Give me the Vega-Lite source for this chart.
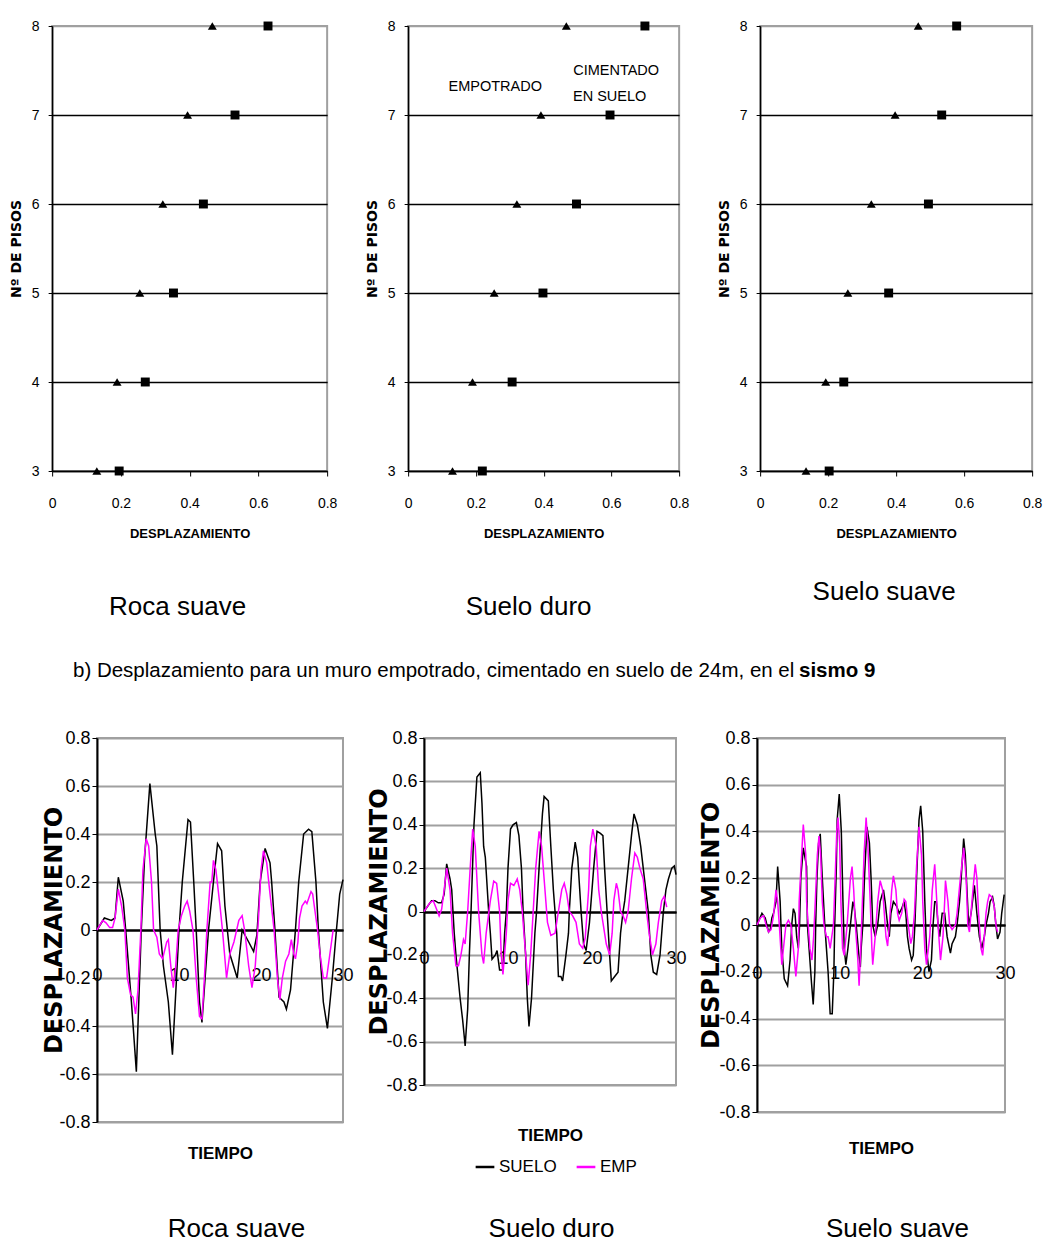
{
  "$schema": "https://vega.github.io/schema/vega-lite/v6.json",
  "background": "white",
  "padding": {"left": -30, "top": 18, "right": 0, "bottom": 0},
  "columns": 1,
  "center": true,
  "spacing": 38,
  "config": {
    "view": {"stroke": "#a0a0a0", "strokeWidth": 2},
    "font": "Liberation Sans",
    "axis": {"labelColor": "black", "titleColor": "black", "domainColor": "black", "tickColor": "black", "labelFlush": false, "labelOverlap": false},
    "title": {"color": "black"}
  },
  "datasets": {
    "top1": [
      {"f": 3, "c": "EMPOTRADO", "d": 0.130}, {"f": 4, "c": "EMPOTRADO", "d": 0.189}, {"f": 5, "c": "EMPOTRADO", "d": 0.255},
      {"f": 6, "c": "EMPOTRADO", "d": 0.322}, {"f": 7, "c": "EMPOTRADO", "d": 0.394}, {"f": 8, "c": "EMPOTRADO", "d": 0.466},
      {"f": 3, "c": "CIMENTADO EN SUELO", "d": 0.195}, {"f": 4, "c": "CIMENTADO EN SUELO", "d": 0.271}, {"f": 5, "c": "CIMENTADO EN SUELO", "d": 0.353},
      {"f": 6, "c": "CIMENTADO EN SUELO", "d": 0.440}, {"f": 7, "c": "CIMENTADO EN SUELO", "d": 0.532}, {"f": 8, "c": "CIMENTADO EN SUELO", "d": 0.628}
    ],
    "top2": [
      {"f": 3, "c": "EMPOTRADO", "d": 0.131}, {"f": 4, "c": "EMPOTRADO", "d": 0.190}, {"f": 5, "c": "EMPOTRADO", "d": 0.254},
      {"f": 6, "c": "EMPOTRADO", "d": 0.321}, {"f": 7, "c": "EMPOTRADO", "d": 0.392}, {"f": 8, "c": "EMPOTRADO", "d": 0.467},
      {"f": 3, "c": "CIMENTADO EN SUELO", "d": 0.219}, {"f": 4, "c": "CIMENTADO EN SUELO", "d": 0.307}, {"f": 5, "c": "CIMENTADO EN SUELO", "d": 0.398},
      {"f": 6, "c": "CIMENTADO EN SUELO", "d": 0.497}, {"f": 7, "c": "CIMENTADO EN SUELO", "d": 0.596}, {"f": 8, "c": "CIMENTADO EN SUELO", "d": 0.699}
    ],
    "top3": [
      {"f": 3, "c": "EMPOTRADO", "d": 0.135}, {"f": 4, "c": "EMPOTRADO", "d": 0.193}, {"f": 5, "c": "EMPOTRADO", "d": 0.258},
      {"f": 6, "c": "EMPOTRADO", "d": 0.327}, {"f": 7, "c": "EMPOTRADO", "d": 0.397}, {"f": 8, "c": "EMPOTRADO", "d": 0.465},
      {"f": 3, "c": "CIMENTADO EN SUELO", "d": 0.203}, {"f": 4, "c": "CIMENTADO EN SUELO", "d": 0.246}, {"f": 5, "c": "CIMENTADO EN SUELO", "d": 0.378},
      {"f": 6, "c": "CIMENTADO EN SUELO", "d": 0.495}, {"f": 7, "c": "CIMENTADO EN SUELO", "d": 0.534}, {"f": 8, "c": "CIMENTADO EN SUELO", "d": 0.578}
    ],
    "notes": [
      {"d": 0.257, "f": 7.31, "label": "EMPOTRADO"},
      {"d": 0.614, "f": 7.49, "label": "CIMENTADO"},
      {"d": 0.595, "f": 7.2, "label": "EN SUELO"}
    ],
    "b1": [
      {"s":"SUELO","t":0,"v":0},{"s":"SUELO","t":0.9,"v":0.05},{"s":"SUELO","t":1.75,"v":0.04},{"s":"SUELO","t":2.2,"v":0.05},{"s":"SUELO","t":2.6,"v":0.22},{"s":"SUELO","t":3.2,"v":0.12},{"s":"SUELO","t":3.5,"v":0},{"s":"SUELO","t":4.2,"v":-0.3},{"s":"SUELO","t":4.8,"v":-0.59},{"s":"SUELO","t":5.4,"v":0},{"s":"SUELO","t":5.8,"v":0.3},{"s":"SUELO","t":6.45,"v":0.61},{"s":"SUELO","t":7.1,"v":0.4},{"s":"SUELO","t":7.3,"v":0.35},{"s":"SUELO","t":7.7,"v":0},{"s":"SUELO","t":8.1,"v":-0.15},{"s":"SUELO","t":8.7,"v":-0.3},{"s":"SUELO","t":9.2,"v":-0.52},{"s":"SUELO","t":9.7,"v":-0.2},{"s":"SUELO","t":10,"v":0},{"s":"SUELO","t":10.4,"v":0.2},{"s":"SUELO","t":11.1,"v":0.46},{"s":"SUELO","t":11.4,"v":0.45},{"s":"SUELO","t":11.8,"v":0.2},{"s":"SUELO","t":12.1,"v":0},{"s":"SUELO","t":12.5,"v":-0.3},{"s":"SUELO","t":12.8,"v":-0.385},{"s":"SUELO","t":13.6,"v":0},{"s":"SUELO","t":14.2,"v":0.2},{"s":"SUELO","t":14.7,"v":0.36},{"s":"SUELO","t":15.2,"v":0.33},{"s":"SUELO","t":15.6,"v":0.1},{"s":"SUELO","t":16.2,"v":-0.1},{"s":"SUELO","t":17.1,"v":-0.2},{"s":"SUELO","t":17.7,"v":0},{"s":"SUELO","t":18.5,"v":-0.05},{"s":"SUELO","t":19.1,"v":-0.09},{"s":"SUELO","t":19.5,"v":-0.02},{"s":"SUELO","t":19.9,"v":0.2},{"s":"SUELO","t":20.5,"v":0.34},{"s":"SUELO","t":21.1,"v":0.28},{"s":"SUELO","t":21.3,"v":0.2},{"s":"SUELO","t":21.7,"v":0},{"s":"SUELO","t":22.2,"v":-0.28},{"s":"SUELO","t":22.8,"v":-0.3},{"s":"SUELO","t":23.1,"v":-0.33},{"s":"SUELO","t":23.6,"v":-0.25},{"s":"SUELO","t":24.2,"v":0},{"s":"SUELO","t":24.6,"v":0.2},{"s":"SUELO","t":25.2,"v":0.4},{"s":"SUELO","t":25.8,"v":0.42},{"s":"SUELO","t":26.2,"v":0.41},{"s":"SUELO","t":26.7,"v":0.2},{"s":"SUELO","t":27,"v":0},{"s":"SUELO","t":27.6,"v":-0.3},{"s":"SUELO","t":28.1,"v":-0.41},{"s":"SUELO","t":28.7,"v":-0.2},{"s":"SUELO","t":29.2,"v":0},{"s":"SUELO","t":29.6,"v":0.15},{"s":"SUELO","t":30,"v":0.21},
      {"s":"EMP","t":0,"v":0},{"s":"EMP","t":0.7,"v":0.04},{"s":"EMP","t":1.1,"v":0.03},{"s":"EMP","t":1.55,"v":0.01},{"s":"EMP","t":1.9,"v":0.01},{"s":"EMP","t":2.2,"v":0.05},{"s":"EMP","t":2.6,"v":0.17},{"s":"EMP","t":3,"v":0.1},{"s":"EMP","t":3.4,"v":0},{"s":"EMP","t":3.7,"v":-0.2},{"s":"EMP","t":4.1,"v":-0.27},{"s":"EMP","t":4.4,"v":-0.28},{"s":"EMP","t":4.7,"v":-0.35},{"s":"EMP","t":5,"v":-0.25},{"s":"EMP","t":5.35,"v":0},{"s":"EMP","t":5.6,"v":0.25},{"s":"EMP","t":6,"v":0.38},{"s":"EMP","t":6.3,"v":0.35},{"s":"EMP","t":6.65,"v":0.2},{"s":"EMP","t":6.9,"v":0},{"s":"EMP","t":7.3,"v":-0.03},{"s":"EMP","t":7.6,"v":-0.1},{"s":"EMP","t":8,"v":-0.12},{"s":"EMP","t":8.5,"v":-0.05},{"s":"EMP","t":8.7,"v":-0.04},{"s":"EMP","t":9,"v":-0.15},{"s":"EMP","t":9.3,"v":-0.24},{"s":"EMP","t":9.6,"v":-0.15},{"s":"EMP","t":9.9,"v":0},{"s":"EMP","t":10.3,"v":0.06},{"s":"EMP","t":10.7,"v":0.1},{"s":"EMP","t":11,"v":0.12},{"s":"EMP","t":11.3,"v":0.08},{"s":"EMP","t":11.7,"v":0},{"s":"EMP","t":12.1,"v":-0.2},{"s":"EMP","t":12.5,"v":-0.36},{"s":"EMP","t":12.8,"v":-0.37},{"s":"EMP","t":13.1,"v":-0.2},{"s":"EMP","t":13.4,"v":0},{"s":"EMP","t":13.8,"v":0.2},{"s":"EMP","t":14,"v":0.2},{"s":"EMP","t":14.2,"v":0.29},{"s":"EMP","t":14.5,"v":0.25},{"s":"EMP","t":15,"v":0.1},{"s":"EMP","t":15.3,"v":0},{"s":"EMP","t":15.8,"v":-0.2},{"s":"EMP","t":16.2,"v":-0.1},{"s":"EMP","t":16.7,"v":-0.05},{"s":"EMP","t":17.3,"v":0.04},{"s":"EMP","t":17.7,"v":0.06},{"s":"EMP","t":18,"v":0},{"s":"EMP","t":18.5,"v":-0.15},{"s":"EMP","t":18.9,"v":-0.24},{"s":"EMP","t":19.3,"v":-0.15},{"s":"EMP","t":19.7,"v":0.05},{"s":"EMP","t":20,"v":0.25},{"s":"EMP","t":20.3,"v":0.33},{"s":"EMP","t":20.7,"v":0.28},{"s":"EMP","t":21.1,"v":0.15},{"s":"EMP","t":21.6,"v":0},{"s":"EMP","t":22,"v":-0.2},{"s":"EMP","t":22.3,"v":-0.29},{"s":"EMP","t":22.6,"v":-0.2},{"s":"EMP","t":23,"v":-0.13},{"s":"EMP","t":23.4,"v":-0.1},{"s":"EMP","t":23.7,"v":-0.04},{"s":"EMP","t":24,"v":-0.1},{"s":"EMP","t":24.2,"v":-0.12},{"s":"EMP","t":24.5,"v":-0.05},{"s":"EMP","t":24.7,"v":0.05},{"s":"EMP","t":25,"v":0.1},{"s":"EMP","t":25.4,"v":0.12},{"s":"EMP","t":25.6,"v":0.11},{"s":"EMP","t":26.1,"v":0.16},{"s":"EMP","t":26.3,"v":0.15},{"s":"EMP","t":26.9,"v":0},{"s":"EMP","t":27.2,"v":-0.1},{"s":"EMP","t":27.6,"v":-0.2},{"s":"EMP","t":28,"v":-0.2},{"s":"EMP","t":28.4,"v":-0.1},{"s":"EMP","t":28.8,"v":0}
    ],
    "b2": [
      {"s":"SUELO","t":0,"v":0},{"s":"SUELO","t":0.9,"v":0.05},{"s":"SUELO","t":1.3,"v":0.05},{"s":"SUELO","t":1.7,"v":0.04},{"s":"SUELO","t":2.1,"v":0.04},{"s":"SUELO","t":2.4,"v":0.08},{"s":"SUELO","t":2.7,"v":0.22},{"s":"SUELO","t":3.1,"v":0.15},{"s":"SUELO","t":3.3,"v":0.1},{"s":"SUELO","t":3.6,"v":-0.1},{"s":"SUELO","t":3.8,"v":-0.2},{"s":"SUELO","t":4.3,"v":-0.4},{"s":"SUELO","t":4.6,"v":-0.5},{"s":"SUELO","t":4.9,"v":-0.62},{"s":"SUELO","t":5.2,"v":-0.45},{"s":"SUELO","t":5.4,"v":-0.2},{"s":"SUELO","t":5.6,"v":0},{"s":"SUELO","t":5.95,"v":0.4},{"s":"SUELO","t":6.3,"v":0.62},{"s":"SUELO","t":6.7,"v":0.64},{"s":"SUELO","t":6.9,"v":0.5},{"s":"SUELO","t":7.1,"v":0.3},{"s":"SUELO","t":7.3,"v":0.25},{"s":"SUELO","t":7.7,"v":0},{"s":"SUELO","t":7.9,"v":-0.1},{"s":"SUELO","t":8.1,"v":-0.22},{"s":"SUELO","t":8.5,"v":-0.2},{"s":"SUELO","t":8.7,"v":-0.18},{"s":"SUELO","t":9,"v":-0.27},{"s":"SUELO","t":9.4,"v":-0.27},{"s":"SUELO","t":9.6,"v":-0.1},{"s":"SUELO","t":9.8,"v":0},{"s":"SUELO","t":10,"v":0.2},{"s":"SUELO","t":10.3,"v":0.38},{"s":"SUELO","t":10.6,"v":0.4},{"s":"SUELO","t":11,"v":0.41},{"s":"SUELO","t":11.3,"v":0.35},{"s":"SUELO","t":11.6,"v":0.2},{"s":"SUELO","t":11.8,"v":0},{"s":"SUELO","t":12.1,"v":-0.2},{"s":"SUELO","t":12.3,"v":-0.4},{"s":"SUELO","t":12.5,"v":-0.53},{"s":"SUELO","t":12.8,"v":-0.4},{"s":"SUELO","t":13.2,"v":-0.1},{"s":"SUELO","t":13.4,"v":0},{"s":"SUELO","t":13.7,"v":0.2},{"s":"SUELO","t":14.1,"v":0.45},{"s":"SUELO","t":14.3,"v":0.53},{"s":"SUELO","t":14.8,"v":0.51},{"s":"SUELO","t":15.1,"v":0.3},{"s":"SUELO","t":15.4,"v":0.1},{"s":"SUELO","t":15.6,"v":0},{"s":"SUELO","t":15.8,"v":-0.1},{"s":"SUELO","t":16,"v":-0.3},{"s":"SUELO","t":16.3,"v":-0.3},{"s":"SUELO","t":16.5,"v":-0.32},{"s":"SUELO","t":16.9,"v":-0.2},{"s":"SUELO","t":17.2,"v":-0.1},{"s":"SUELO","t":17.3,"v":0},{"s":"SUELO","t":17.6,"v":0.2},{"s":"SUELO","t":18,"v":0.32},{"s":"SUELO","t":18.3,"v":0.25},{"s":"SUELO","t":18.7,"v":0},{"s":"SUELO","t":19,"v":-0.15},{"s":"SUELO","t":19.3,"v":-0.18},{"s":"SUELO","t":19.7,"v":-0.05},{"s":"SUELO","t":20,"v":0.1},{"s":"SUELO","t":20.2,"v":0.2},{"s":"SUELO","t":20.6,"v":0.37},{"s":"SUELO","t":21,"v":0.36},{"s":"SUELO","t":21.3,"v":0.35},{"s":"SUELO","t":21.5,"v":0.2},{"s":"SUELO","t":21.8,"v":0},{"s":"SUELO","t":22.1,"v":-0.2},{"s":"SUELO","t":22.3,"v":-0.32},{"s":"SUELO","t":22.7,"v":-0.3},{"s":"SUELO","t":23.1,"v":-0.28},{"s":"SUELO","t":23.4,"v":-0.1},{"s":"SUELO","t":23.7,"v":0},{"s":"SUELO","t":23.9,"v":0.05},{"s":"SUELO","t":24.3,"v":0.2},{"s":"SUELO","t":24.7,"v":0.35},{"s":"SUELO","t":25,"v":0.45},{"s":"SUELO","t":25.4,"v":0.4},{"s":"SUELO","t":25.8,"v":0.3},{"s":"SUELO","t":26.1,"v":0.2},{"s":"SUELO","t":26.4,"v":0.1},{"s":"SUELO","t":26.7,"v":0},{"s":"SUELO","t":27,"v":-0.2},{"s":"SUELO","t":27.3,"v":-0.28},{"s":"SUELO","t":27.7,"v":-0.29},{"s":"SUELO","t":28.1,"v":-0.2},{"s":"SUELO","t":28.5,"v":0},{"s":"SUELO","t":28.8,"v":0.1},{"s":"SUELO","t":29.1,"v":0.15},{"s":"SUELO","t":29.5,"v":0.2},{"s":"SUELO","t":29.8,"v":0.21},{"s":"SUELO","t":30,"v":0.17},
      {"s":"EMP","t":0,"v":0},{"s":"EMP","t":0.7,"v":0.04},{"s":"EMP","t":1.1,"v":0.05},{"s":"EMP","t":1.5,"v":0.01},{"s":"EMP","t":1.8,"v":-0.02},{"s":"EMP","t":2.1,"v":0.01},{"s":"EMP","t":2.4,"v":0.1},{"s":"EMP","t":2.7,"v":0.2},{"s":"EMP","t":3.1,"v":0.1},{"s":"EMP","t":3.4,"v":-0.1},{"s":"EMP","t":3.8,"v":-0.25},{"s":"EMP","t":4.1,"v":-0.25},{"s":"EMP","t":4.4,"v":-0.2},{"s":"EMP","t":4.7,"v":-0.13},{"s":"EMP","t":4.9,"v":-0.15},{"s":"EMP","t":5.2,"v":0},{"s":"EMP","t":5.5,"v":0.2},{"s":"EMP","t":5.8,"v":0.38},{"s":"EMP","t":6.1,"v":0.3},{"s":"EMP","t":6.5,"v":0},{"s":"EMP","t":6.9,"v":-0.2},{"s":"EMP","t":7.1,"v":-0.24},{"s":"EMP","t":7.4,"v":-0.1},{"s":"EMP","t":7.9,"v":0.05},{"s":"EMP","t":8.3,"v":0.14},{"s":"EMP","t":8.65,"v":0.13},{"s":"EMP","t":9,"v":0},{"s":"EMP","t":9.2,"v":-0.2},{"s":"EMP","t":9.4,"v":-0.29},{"s":"EMP","t":9.8,"v":-0.1},{"s":"EMP","t":10,"v":0.05},{"s":"EMP","t":10.3,"v":0.13},{"s":"EMP","t":10.7,"v":0.12},{"s":"EMP","t":11.1,"v":0.15},{"s":"EMP","t":11.4,"v":0.1},{"s":"EMP","t":11.7,"v":0},{"s":"EMP","t":12,"v":-0.15},{"s":"EMP","t":12.4,"v":-0.34},{"s":"EMP","t":12.7,"v":-0.2},{"s":"EMP","t":13,"v":0},{"s":"EMP","t":13.3,"v":0.2},{"s":"EMP","t":13.7,"v":0.37},{"s":"EMP","t":14,"v":0.3},{"s":"EMP","t":14.4,"v":0.1},{"s":"EMP","t":14.7,"v":-0.05},{"s":"EMP","t":15.1,"v":-0.11},{"s":"EMP","t":15.6,"v":-0.1},{"s":"EMP","t":16,"v":0},{"s":"EMP","t":16.4,"v":0.1},{"s":"EMP","t":16.7,"v":0.13},{"s":"EMP","t":17,"v":0.08},{"s":"EMP","t":17.3,"v":0},{"s":"EMP","t":17.7,"v":-0.02},{"s":"EMP","t":18.1,"v":-0.05},{"s":"EMP","t":18.5,"v":-0.15},{"s":"EMP","t":18.9,"v":-0.17},{"s":"EMP","t":19.2,"v":-0.12},{"s":"EMP","t":19.6,"v":0.1},{"s":"EMP","t":19.8,"v":0.3},{"s":"EMP","t":20.1,"v":0.38},{"s":"EMP","t":20.5,"v":0.3},{"s":"EMP","t":20.8,"v":0.1},{"s":"EMP","t":21.1,"v":0},{"s":"EMP","t":21.3,"v":-0.05},{"s":"EMP","t":21.7,"v":-0.15},{"s":"EMP","t":22.1,"v":-0.2},{"s":"EMP","t":22.4,"v":-0.1},{"s":"EMP","t":22.6,"v":0.05},{"s":"EMP","t":22.9,"v":0.13},{"s":"EMP","t":23.1,"v":0.1},{"s":"EMP","t":23.4,"v":0},{"s":"EMP","t":23.7,"v":-0.02},{"s":"EMP","t":24,"v":-0.05},{"s":"EMP","t":24.3,"v":0},{"s":"EMP","t":24.7,"v":0.15},{"s":"EMP","t":25.1,"v":0.27},{"s":"EMP","t":25.4,"v":0.25},{"s":"EMP","t":25.7,"v":0.2},{"s":"EMP","t":26.1,"v":0.15},{"s":"EMP","t":26.5,"v":0},{"s":"EMP","t":26.8,"v":-0.1},{"s":"EMP","t":27.2,"v":-0.2},{"s":"EMP","t":27.6,"v":-0.15},{"s":"EMP","t":27.9,"v":-0.05},{"s":"EMP","t":28.3,"v":0.05},{"s":"EMP","t":28.6,"v":0.07},{"s":"EMP","t":28.9,"v":0.02}
    ],
    "b3": [
      {"s":"SUELO","t":0,"v":0},{"s":"SUELO","t":0.6,"v":0.05},{"s":"SUELO","t":1,"v":0.03},{"s":"SUELO","t":1.2,"v":0},{"s":"SUELO","t":1.4,"v":-0.03},{"s":"SUELO","t":1.6,"v":-0.02},{"s":"SUELO","t":1.8,"v":0.03},{"s":"SUELO","t":2,"v":0.05},{"s":"SUELO","t":2.3,"v":0.1},{"s":"SUELO","t":2.5,"v":0.25},{"s":"SUELO","t":2.8,"v":0.1},{"s":"SUELO","t":3,"v":-0.1},{"s":"SUELO","t":3.3,"v":-0.23},{"s":"SUELO","t":3.7,"v":-0.26},{"s":"SUELO","t":4,"v":-0.15},{"s":"SUELO","t":4.2,"v":0},{"s":"SUELO","t":4.4,"v":0.07},{"s":"SUELO","t":4.6,"v":0.05},{"s":"SUELO","t":4.8,"v":-0.05},{"s":"SUELO","t":5,"v":-0.1},{"s":"SUELO","t":5.15,"v":0},{"s":"SUELO","t":5.3,"v":0.2},{"s":"SUELO","t":5.6,"v":0.33},{"s":"SUELO","t":6,"v":0.25},{"s":"SUELO","t":6.1,"v":0},{"s":"SUELO","t":6.3,"v":-0.1},{"s":"SUELO","t":6.6,"v":-0.25},{"s":"SUELO","t":6.8,"v":-0.34},{"s":"SUELO","t":7,"v":-0.2},{"s":"SUELO","t":7.1,"v":0},{"s":"SUELO","t":7.25,"v":0.2},{"s":"SUELO","t":7.45,"v":0.35},{"s":"SUELO","t":7.65,"v":0.39},{"s":"SUELO","t":7.9,"v":0.2},{"s":"SUELO","t":8.2,"v":0},{"s":"SUELO","t":8.4,"v":-0.1},{"s":"SUELO","t":8.6,"v":-0.2},{"s":"SUELO","t":8.85,"v":-0.38},{"s":"SUELO","t":9.1,"v":-0.38},{"s":"SUELO","t":9.3,"v":-0.2},{"s":"SUELO","t":9.4,"v":0},{"s":"SUELO","t":9.6,"v":0.25},{"s":"SUELO","t":9.7,"v":0.45},{"s":"SUELO","t":9.95,"v":0.56},{"s":"SUELO","t":10.2,"v":0.4},{"s":"SUELO","t":10.4,"v":0.1},{"s":"SUELO","t":10.55,"v":-0.1},{"s":"SUELO","t":10.75,"v":-0.17},{"s":"SUELO","t":11,"v":-0.1},{"s":"SUELO","t":11.3,"v":0},{"s":"SUELO","t":11.6,"v":0.1},{"s":"SUELO","t":11.75,"v":0.08},{"s":"SUELO","t":12,"v":0},{"s":"SUELO","t":12.3,"v":-0.12},{"s":"SUELO","t":12.5,"v":-0.18},{"s":"SUELO","t":12.6,"v":-0.1},{"s":"SUELO","t":12.8,"v":0},{"s":"SUELO","t":13,"v":0.2},{"s":"SUELO","t":13.3,"v":0.42},{"s":"SUELO","t":13.6,"v":0.35},{"s":"SUELO","t":13.8,"v":0.2},{"s":"SUELO","t":14,"v":0},{"s":"SUELO","t":14.3,"v":-0.05},{"s":"SUELO","t":14.6,"v":0},{"s":"SUELO","t":14.9,"v":0.1},{"s":"SUELO","t":15.3,"v":0.15},{"s":"SUELO","t":15.5,"v":0.1},{"s":"SUELO","t":15.8,"v":0},{"s":"SUELO","t":16,"v":-0.05},{"s":"SUELO","t":16.2,"v":0.05},{"s":"SUELO","t":16.5,"v":0.1},{"s":"SUELO","t":16.9,"v":0.08},{"s":"SUELO","t":17.2,"v":0.05},{"s":"SUELO","t":17.5,"v":0.07},{"s":"SUELO","t":17.8,"v":0.1},{"s":"SUELO","t":18,"v":0.05},{"s":"SUELO","t":18.2,"v":-0.05},{"s":"SUELO","t":18.4,"v":-0.1},{"s":"SUELO","t":18.7,"v":-0.15},{"s":"SUELO","t":18.9,"v":-0.13},{"s":"SUELO","t":19.1,"v":0},{"s":"SUELO","t":19.3,"v":0.2},{"s":"SUELO","t":19.6,"v":0.45},{"s":"SUELO","t":19.8,"v":0.51},{"s":"SUELO","t":20.05,"v":0.4},{"s":"SUELO","t":20.3,"v":0.1},{"s":"SUELO","t":20.5,"v":-0.1},{"s":"SUELO","t":20.8,"v":-0.2},{"s":"SUELO","t":21.1,"v":-0.15},{"s":"SUELO","t":21.3,"v":0},{"s":"SUELO","t":21.5,"v":0.1},{"s":"SUELO","t":21.7,"v":0.1},{"s":"SUELO","t":21.9,"v":0},{"s":"SUELO","t":22.1,"v":-0.05},{"s":"SUELO","t":22.4,"v":0.05},{"s":"SUELO","t":22.7,"v":0.05},{"s":"SUELO","t":23,"v":-0.05},{"s":"SUELO","t":23.4,"v":-0.12},{"s":"SUELO","t":23.6,"v":-0.08},{"s":"SUELO","t":24,"v":-0.05},{"s":"SUELO","t":24.2,"v":0},{"s":"SUELO","t":24.5,"v":0.1},{"s":"SUELO","t":24.7,"v":0.2},{"s":"SUELO","t":25,"v":0.37},{"s":"SUELO","t":25.2,"v":0.3},{"s":"SUELO","t":25.4,"v":0.15},{"s":"SUELO","t":25.6,"v":0},{"s":"SUELO","t":25.9,"v":0.05},{"s":"SUELO","t":26.3,"v":0.17},{"s":"SUELO","t":26.6,"v":0.05},{"s":"SUELO","t":26.9,"v":-0.05},{"s":"SUELO","t":27.2,"v":-0.1},{"s":"SUELO","t":27.5,"v":-0.05},{"s":"SUELO","t":27.7,"v":0},{"s":"SUELO","t":28,"v":0.05},{"s":"SUELO","t":28.2,"v":0.1},{"s":"SUELO","t":28.5,"v":0.12},{"s":"SUELO","t":28.7,"v":0.08},{"s":"SUELO","t":28.9,"v":0},{"s":"SUELO","t":29.1,"v":-0.06},{"s":"SUELO","t":29.4,"v":-0.03},{"s":"SUELO","t":29.6,"v":0.05},{"s":"SUELO","t":29.9,"v":0.13},
      {"s":"EMP","t":0,"v":0},{"s":"EMP","t":0.4,"v":0.03},{"s":"EMP","t":0.8,"v":0.04},{"s":"EMP","t":1.1,"v":0},{"s":"EMP","t":1.4,"v":-0.03},{"s":"EMP","t":1.7,"v":-0.02},{"s":"EMP","t":2,"v":0.04},{"s":"EMP","t":2.3,"v":0.15},{"s":"EMP","t":2.5,"v":0.1},{"s":"EMP","t":2.7,"v":0},{"s":"EMP","t":3,"v":-0.17},{"s":"EMP","t":3.2,"v":-0.1},{"s":"EMP","t":3.5,"v":0},{"s":"EMP","t":3.8,"v":0.02},{"s":"EMP","t":4.1,"v":0},{"s":"EMP","t":4.4,"v":-0.1},{"s":"EMP","t":4.7,"v":-0.22},{"s":"EMP","t":5,"v":-0.1},{"s":"EMP","t":5.1,"v":0.1},{"s":"EMP","t":5.4,"v":0.3},{"s":"EMP","t":5.6,"v":0.43},{"s":"EMP","t":5.9,"v":0.3},{"s":"EMP","t":6,"v":0.1},{"s":"EMP","t":6.2,"v":0},{"s":"EMP","t":6.4,"v":-0.1},{"s":"EMP","t":6.65,"v":-0.15},{"s":"EMP","t":6.85,"v":-0.05},{"s":"EMP","t":7.05,"v":0.1},{"s":"EMP","t":7.3,"v":0.3},{"s":"EMP","t":7.5,"v":0.38},{"s":"EMP","t":7.7,"v":0.3},{"s":"EMP","t":7.9,"v":0.1},{"s":"EMP","t":8.1,"v":0},{"s":"EMP","t":8.4,"v":-0.05},{"s":"EMP","t":8.6,"v":-0.05},{"s":"EMP","t":8.85,"v":-0.1},{"s":"EMP","t":9.05,"v":-0.05},{"s":"EMP","t":9.25,"v":0},{"s":"EMP","t":9.45,"v":0.2},{"s":"EMP","t":9.65,"v":0.4},{"s":"EMP","t":9.8,"v":0.46},{"s":"EMP","t":10,"v":0.35},{"s":"EMP","t":10.15,"v":0.1},{"s":"EMP","t":10.35,"v":-0.1},{"s":"EMP","t":10.55,"v":-0.13},{"s":"EMP","t":10.9,"v":0},{"s":"EMP","t":11.3,"v":0.2},{"s":"EMP","t":11.5,"v":0.25},{"s":"EMP","t":11.7,"v":0.15},{"s":"EMP","t":11.9,"v":0},{"s":"EMP","t":12.2,"v":-0.15},{"s":"EMP","t":12.35,"v":-0.26},{"s":"EMP","t":12.55,"v":-0.1},{"s":"EMP","t":12.75,"v":0.1},{"s":"EMP","t":12.95,"v":0.3},{"s":"EMP","t":13.2,"v":0.46},{"s":"EMP","t":13.4,"v":0.35},{"s":"EMP","t":13.7,"v":0.1},{"s":"EMP","t":13.9,"v":-0.1},{"s":"EMP","t":14,"v":-0.17},{"s":"EMP","t":14.3,"v":-0.05},{"s":"EMP","t":14.6,"v":0.1},{"s":"EMP","t":14.9,"v":0.19},{"s":"EMP","t":15.2,"v":0.15},{"s":"EMP","t":15.4,"v":0.05},{"s":"EMP","t":15.6,"v":-0.05},{"s":"EMP","t":15.8,"v":-0.09},{"s":"EMP","t":16,"v":0},{"s":"EMP","t":16.3,"v":0.15},{"s":"EMP","t":16.5,"v":0.21},{"s":"EMP","t":16.8,"v":0.15},{"s":"EMP","t":17,"v":0.05},{"s":"EMP","t":17.2,"v":0.02},{"s":"EMP","t":17.5,"v":0.05},{"s":"EMP","t":17.8,"v":0.11},{"s":"EMP","t":18,"v":0.1},{"s":"EMP","t":18.3,"v":0},{"s":"EMP","t":18.6,"v":-0.08},{"s":"EMP","t":18.8,"v":-0.05},{"s":"EMP","t":19.05,"v":0.05},{"s":"EMP","t":19.3,"v":0.25},{"s":"EMP","t":19.6,"v":0.42},{"s":"EMP","t":19.9,"v":0.3},{"s":"EMP","t":20.05,"v":0.1},{"s":"EMP","t":20.3,"v":-0.1},{"s":"EMP","t":20.5,"v":-0.17},{"s":"EMP","t":20.9,"v":-0.05},{"s":"EMP","t":21.2,"v":0.15},{"s":"EMP","t":21.5,"v":0.26},{"s":"EMP","t":21.6,"v":0.2},{"s":"EMP","t":21.9,"v":0},{"s":"EMP","t":22.2,"v":-0.15},{"s":"EMP","t":22.5,"v":-0.05},{"s":"EMP","t":22.7,"v":0.1},{"s":"EMP","t":22.8,"v":0.19},{"s":"EMP","t":23.1,"v":0.1},{"s":"EMP","t":23.3,"v":0},{"s":"EMP","t":23.6,"v":-0.02},{"s":"EMP","t":24,"v":0},{"s":"EMP","t":24.2,"v":0.05},{"s":"EMP","t":24.6,"v":0.2},{"s":"EMP","t":25,"v":0.33},{"s":"EMP","t":25.3,"v":0.2},{"s":"EMP","t":25.5,"v":0},{"s":"EMP","t":25.7,"v":-0.03},{"s":"EMP","t":26,"v":0.1},{"s":"EMP","t":26.4,"v":0.26},{"s":"EMP","t":26.6,"v":0.2},{"s":"EMP","t":26.8,"v":0.05},{"s":"EMP","t":27.1,"v":-0.1},{"s":"EMP","t":27.3,"v":-0.13},{"s":"EMP","t":27.5,"v":-0.05},{"s":"EMP","t":27.7,"v":0.05},{"s":"EMP","t":27.9,"v":0.1},{"s":"EMP","t":28.1,"v":0.13},{"s":"EMP","t":28.4,"v":0.12},{"s":"EMP","t":28.7,"v":0.08},{"s":"EMP","t":28.9,"v":0},{"s":"EMP","t":29.1,"v":-0.03}
    ]
  },
  "concat": [
    {
      "hconcat": [
        {
          "width": 1, "height": 1,
          "data": {"values": []},
          "view": {"stroke": null},
          "mark": {"type": "point", "opacity": 0}
        },
        {
          "width": 275, "height": 445,
          "data": {"name": "top1"},
          "title": {"text": "Roca suave", "orient": "bottom", "anchor": "middle", "frame": "group", "dx": -12, "offset": 54, "baseline": "top", "fontSize": 26, "fontWeight": "normal"},
          "mark": {"type": "point", "filled": true, "color": "black", "opacity": 1, "size": 80},
          "encoding": {
            "x": {"field": "d", "type": "quantitative", "scale": {"domain": [0, 0.8], "nice": false}, "axis": {"values": [0, 0.2, 0.4, 0.6, 0.8], "format": "~g", "title": "DESPLAZAMIENTO", "grid": false, "domainWidth": 1.5, "tickSize": 5, "labelFontSize": 14, "labelPadding": 20, "titleFontSize": 13, "titleFontWeight": "bold", "titlePadding": 17}},
            "y": {"field": "f", "type": "quantitative", "scale": {"domain": [3, 8], "nice": false}, "axis": {"values": [3, 4, 5, 6, 7, 8], "format": "d", "title": "Nº DE PISOS", "grid": true, "gridColor": {"condition": {"test": "datum.value == 8", "value": "#a0a0a0"}, "value": "black"}, "gridWidth": 1.5, "domainWidth": 1.5, "tickSize": 4, "labelFontSize": 14, "labelPadding": 9, "titleFontSize": 14, "titleFont": "DejaVu Sans", "titleFontWeight": "bold", "titlePadding": 8}},
            "shape": {"field": "c", "type": "nominal", "scale": {"domain": ["EMPOTRADO", "CIMENTADO EN SUELO"], "range": ["triangle-up", "square"]}, "legend": null}
          }
        },
        {
          "width": 271, "height": 445,
          "title": {"text": "Suelo duro", "orient": "bottom", "anchor": "middle", "frame": "group", "dx": -15, "offset": 54, "baseline": "top", "fontSize": 26, "fontWeight": "normal"},
          "layer": [
            {
              "data": {"name": "top2"},
              "mark": {"type": "point", "filled": true, "color": "black", "opacity": 1, "size": 80},
              "encoding": {
                "x": {"field": "d", "type": "quantitative", "scale": {"domain": [0, 0.8], "nice": false}, "axis": {"values": [0, 0.2, 0.4, 0.6, 0.8], "format": "~g", "title": "DESPLAZAMIENTO", "grid": false, "domainWidth": 1.5, "tickSize": 5, "labelFontSize": 14, "labelPadding": 20, "titleFontSize": 13, "titleFontWeight": "bold", "titlePadding": 17}},
                "y": {"field": "f", "type": "quantitative", "scale": {"domain": [3, 8], "nice": false}, "axis": {"values": [3, 4, 5, 6, 7, 8], "format": "d", "title": "Nº DE PISOS", "grid": true, "gridColor": {"condition": {"test": "datum.value == 8", "value": "#a0a0a0"}, "value": "black"}, "gridWidth": 1.5, "domainWidth": 1.5, "tickSize": 4, "labelFontSize": 14, "labelPadding": 9, "titleFontSize": 14, "titleFont": "DejaVu Sans", "titleFontWeight": "bold", "titlePadding": 8}},
                "shape": {"field": "c", "type": "nominal", "scale": {"domain": ["EMPOTRADO", "CIMENTADO EN SUELO"], "range": ["triangle-up", "square"]}, "legend": null}
              }
            },
            {
              "data": {"name": "notes"},
              "mark": {"type": "text", "align": "center", "baseline": "middle", "fontSize": 14.5, "color": "black"},
              "encoding": {
                "x": {"field": "d", "type": "quantitative"},
                "y": {"field": "f", "type": "quantitative"},
                "text": {"field": "label"}
              }
            }
          ]
        },
        {
          "width": 272, "height": 445,
          "data": {"name": "top3"},
          "title": {"text": "Suelo suave", "orient": "bottom", "anchor": "middle", "frame": "group", "dx": -12, "offset": 39, "baseline": "top", "fontSize": 26, "fontWeight": "normal"},
          "mark": {"type": "point", "filled": true, "color": "black", "opacity": 1, "size": 80},
          "encoding": {
            "x": {"field": "d", "type": "quantitative", "scale": {"domain": [0, 0.8], "nice": false}, "axis": {"values": [0, 0.2, 0.4, 0.6, 0.8], "format": "~g", "title": "DESPLAZAMIENTO", "grid": false, "domainWidth": 1.5, "tickSize": 5, "labelFontSize": 14, "labelPadding": 20, "titleFontSize": 13, "titleFontWeight": "bold", "titlePadding": 17}},
            "y": {"field": "f", "type": "quantitative", "scale": {"domain": [3, 8], "nice": false}, "axis": {"values": [3, 4, 5, 6, 7, 8], "format": "d", "title": "Nº DE PISOS", "grid": true, "gridColor": {"condition": {"test": "datum.value == 8", "value": "#a0a0a0"}, "value": "black"}, "gridWidth": 1.5, "domainWidth": 1.5, "tickSize": 4, "labelFontSize": 14, "labelPadding": 9, "titleFontSize": 14, "titleFont": "DejaVu Sans", "titleFontWeight": "bold", "titlePadding": 8}},
            "shape": {"field": "c", "type": "nominal", "scale": {"domain": ["EMPOTRADO", "CIMENTADO EN SUELO"], "range": ["triangle-up", "square"]}, "legend": null}
          }
        }
      ],
      "spacing": 81,
      "bounds": "flush"
    },
    {
      "hconcat": [
        {
          "width": 19, "height": 1,
          "data": {"values": []},
          "view": {"stroke": null},
          "mark": {"type": "point", "opacity": 0}
        },
        {
          "width": 246, "height": 384,
          "data": {"name": "b1"},
          "title": {"text": "b) Desplazamiento para un muro empotrado, cimentado en suelo de 24m, en el", "orient": "top", "anchor": "start", "frame": "group", "dx": -24, "offset": 32, "baseline": "alphabetic", "fontSize": 20.5, "fontWeight": "normal"},
          "layer": [
            {
              "mark": {"type": "line", "strokeWidth": 1.5},
              "encoding": {
                "x": {"field": "t", "type": "quantitative", "scale": {"domain": [0, 30], "nice": false}, "axis": {"orient": "bottom", "values": [0, 10, 20, 30], "title": "TIEMPO", "offset": -192, "grid": false, "ticks": false, "domainWidth": 2, "labelFontSize": 18, "labelPadding": 36, "titleFontSize": 17, "titleFontWeight": "bold", "titleY": 223, "titleBaseline": "middle"}},
                "y": {"field": "v", "type": "quantitative", "scale": {"domain": [-0.8, 0.8], "nice": false}, "axis": {"values": [-0.8, -0.6, -0.4, -0.2, 0, 0.2, 0.4, 0.6, 0.8], "labelExpr": "replace(format(datum.value, '.1~f'), '\u2212', '-')", "title": "DESPLAZAMIENTO", "grid": true, "gridColor": {"condition": {"test": "datum.value == 0", "value": "black"}, "value": "#a0a0a0"}, "gridWidth": 2, "domainWidth": 2, "tickSize": 5, "labelFontSize": 18, "labelPadding": 2, "titleFontSize": 24, "titleFont": "DejaVu Sans", "titleFontWeight": "bold", "titleX": -42, "titleBaseline": "middle"}},
                "color": {"field": "s", "type": "nominal", "scale": {"domain": ["SUELO", "EMP"], "range": ["black", "#ff00ff"]}, "legend": null}
              }
            },
            {
              "mark": {"type": "rule", "opacity": 0},
              "encoding": {
                "x": {"field": "t", "type": "quantitative", "axis": {"orient": "bottom", "title": "Roca suave", "labels": false, "ticks": false, "domain": false, "grid": false, "titleFontSize": 26, "titleFontWeight": "normal", "titleX": 139, "titleY": 106, "titleBaseline": "middle"}}
              }
            }
          ],
          "resolve": {"axis": {"x": "independent"}}
        },
        {
          "width": 252, "height": 347,
          "data": {"name": "b2"},
          "layer": [
            {
              "mark": {"type": "line", "strokeWidth": 1.5},
              "encoding": {
                "x": {"field": "t", "type": "quantitative", "scale": {"domain": [0, 30], "nice": false}, "axis": {"orient": "bottom", "values": [0, 10, 20, 30], "title": "TIEMPO", "offset": -173, "grid": false, "ticks": false, "domainWidth": 2, "labelFontSize": 18, "labelPadding": 37, "titleFontSize": 17, "titleFontWeight": "bold", "titleY": 223, "titleBaseline": "middle"}},
                "y": {"field": "v", "type": "quantitative", "scale": {"domain": [-0.8, 0.8], "nice": false}, "axis": {"values": [-0.8, -0.6, -0.4, -0.2, 0, 0.2, 0.4, 0.6, 0.8], "labelExpr": "replace(format(datum.value, '.1~f'), '\u2212', '-')", "title": "DESPLAZAMIENTO", "grid": true, "gridColor": {"condition": {"test": "datum.value == 0", "value": "black"}, "value": "#a0a0a0"}, "gridWidth": 2, "domainWidth": 2, "tickSize": 5, "labelFontSize": 18, "labelPadding": 2, "titleFontSize": 24, "titleFont": "DejaVu Sans", "titleFontWeight": "bold", "titleX": -44, "titleBaseline": "middle"}},
                "color": {"field": "s", "type": "nominal", "scale": {"domain": ["SUELO", "EMP"], "range": ["black", "#ff00ff"]}, "legend": {"orient": "none", "legendX": 50, "legendY": 418, "direction": "horizontal", "title": null, "symbolType": "stroke", "symbolStrokeWidth": 2.5, "symbolSize": 350, "labelFontSize": 17, "labelColor": "black", "columnPadding": 14, "labelOffset": 3}}
              }
            },
            {
              "mark": {"type": "rule", "opacity": 0},
              "encoding": {
                "x": {"field": "t", "type": "quantitative", "axis": {"orient": "bottom", "title": "Suelo duro", "labels": false, "ticks": false, "domain": false, "grid": false, "titleFontSize": 26, "titleFontWeight": "normal", "titleX": 127, "titleY": 143, "titleBaseline": "middle"}}
              }
            }
          ],
          "resolve": {"axis": {"x": "independent"}}
        },
        {
          "width": 248, "height": 374,
          "data": {"name": "b3"},
          "title": {"text": "sismo 9", "orient": "top", "anchor": "start", "frame": "group", "dx": 42, "offset": 32, "baseline": "alphabetic", "fontSize": 20.5, "fontWeight": "bold"},
          "layer": [
            {
              "mark": {"type": "line", "strokeWidth": 1.5},
              "encoding": {
                "x": {"field": "t", "type": "quantitative", "scale": {"domain": [0, 30], "nice": false}, "axis": {"orient": "bottom", "values": [0, 10, 20, 30], "title": "TIEMPO", "offset": -187, "grid": false, "ticks": false, "domainWidth": 2, "labelFontSize": 18, "labelPadding": 39, "titleFontSize": 17, "titleFontWeight": "bold", "titleY": 223, "titleBaseline": "middle"}},
                "y": {"field": "v", "type": "quantitative", "scale": {"domain": [-0.8, 0.8], "nice": false}, "axis": {"values": [-0.8, -0.6, -0.4, -0.2, 0, 0.2, 0.4, 0.6, 0.8], "labelExpr": "replace(format(datum.value, '.1~f'), '\u2212', '-')", "title": "DESPLAZAMIENTO", "grid": true, "gridColor": {"condition": {"test": "datum.value == 0", "value": "black"}, "value": "#a0a0a0"}, "gridWidth": 2, "domainWidth": 2, "tickSize": 5, "labelFontSize": 18, "labelPadding": 2, "titleFontSize": 24, "titleFont": "DejaVu Sans", "titleFontWeight": "bold", "titleX": -45, "titleBaseline": "middle"}},
                "color": {"field": "s", "type": "nominal", "scale": {"domain": ["SUELO", "EMP"], "range": ["black", "#ff00ff"]}, "legend": null}
              }
            },
            {
              "mark": {"type": "rule", "opacity": 0},
              "encoding": {
                "x": {"field": "t", "type": "quantitative", "axis": {"orient": "bottom", "title": "Suelo suave", "labels": false, "ticks": false, "domain": false, "grid": false, "titleFontSize": 26, "titleFontWeight": "normal", "titleX": 140, "titleY": 116, "titleBaseline": "middle"}}
              }
            }
          ],
          "resolve": {"axis": {"x": "independent"}}
        }
      ],
      "spacing": 81,
      "bounds": "flush",
      "resolve": {"scale": {"color": "independent"}, "legend": {"color": "independent"}}
    }
  ]
}
